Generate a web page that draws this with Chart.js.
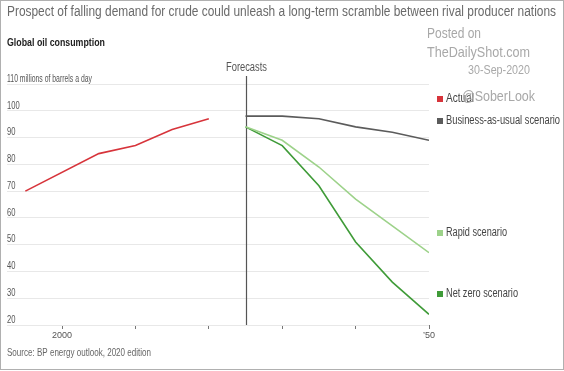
<!DOCTYPE html>
<html>
<head>
<meta charset="utf-8">
<script src="https://cdn.jsdelivr.net/npm/chart.js@4.4.1/dist/chart.umd.min.js"></script>
<style>
  html, body { margin: 0; padding: 0; background: #fff; }
</style>
</head>
<body>
<canvas id="oilChart" width="564" height="371"></canvas>
<script>
// data (millions of barrels a day)
const actualYears = [1995, 2005, 2010, 2015, 2020];
const actualValues = [70, 84, 87, 93, 97];
const scenarioYears = [2025, 2030, 2035, 2040, 2045, 2050];
const businessAsUsual = [98, 98, 97, 94, 92, 89];
const rapidScenario = [94, 89, 79, 67, 57, 47];
const netZeroScenario = [94, 87, 72, 51, 36, 24];

const xTickYears = [2000, 2010, 2020, 2030, 2040, 2050];
const xTickLabels = { 2000: '2000', 2050: '\u201950' };
const forecastYear = 2025;

const legendNames = ['Actual', 'Business-as-usual scenario', 'Rapid scenario', 'Net zero scenario'];
const legendColors = ['#d7343b', '#5b5b5b', '#9dd28a', '#3f9b38'];
const legendLevels = [104.5, 96.3, 54.4, 31.6];

const SANS = '"Liberation Sans", Arial, sans-serif';
const SQUEEZE = 0.78; // the WSJ face is a condensed one, we fake it

const toPoints = (xs, ys) => xs.map((x, i) => ({ x: x, y: ys[i] }));

// draw text squeezed horizontally, either by a fixed factor or to a given width
function narrowText(c, text, x, y, font, opts) {
  c.save();
  c.font = font;
  const w = c.measureText(text).width;
  const s = opts.width ? opts.width / w : (opts.scale || SQUEEZE);
  const align = opts.align || 'left';
  let x0 = x;
  if (align === 'right') x0 = x - w * s;
  if (align === 'center') x0 = x - w * s / 2;
  c.translate(x0, y);
  c.scale(s, 1);
  c.textAlign = 'left';
  c.textBaseline = 'middle';
  c.fillText(text, 0, 0);
  c.restore();
}

const decor = {
  id: 'decor',
  beforeDraw(chart) {
    const c = chart.ctx;
    c.save();
    c.fillStyle = '#fff';
    c.fillRect(0, 0, chart.width, chart.height);
    c.restore();
  },
  beforeDatasetsDraw(chart) {
    const c = chart.ctx, x = chart.scales.x, y = chart.scales.y;
    const fx = Math.round(x.getPixelForValue(forecastYear)) + 0.5;
    c.save();
    c.strokeStyle = '#555';
    c.lineWidth = 1.2;
    c.beginPath();
    c.moveTo(fx, 76);
    c.lineTo(fx, y.bottom);
    c.stroke();
    c.fillStyle = '#555';
    narrowText(c, 'Forecasts', fx, 68, '12px ' + SANS, { width: 41, align: 'center' });

    // y tick labels sit just above their grid lines
    y.ticks.forEach(t => {
      const py = y.getPixelForValue(t.value) - 5;
      if (t.value === 110) {
        narrowText(c, '110 millions of barrels a day', 7, py, '10px ' + SANS, { width: 85 });
      } else {
        narrowText(c, String(t.value), 7, py, '10px ' + SANS, { scale: 0.76 });
      }
    });
    c.restore();
  },
  afterDraw(chart) {
    const c = chart.ctx, y = chart.scales.y;
    c.save();
    c.fillStyle = '#6a6a6a';
    narrowText(c, 'Prospect of falling demand for crude could unleash a long-term scramble between rival producer nations', 7, 12, '14px ' + SANS, { width: 549 });
    c.fillStyle = '#222';
    narrowText(c, 'Global oil consumption', 7, 43, 'bold 11px ' + SANS, { width: 98 });
    c.fillStyle = '#666';
    narrowText(c, 'Source: BP energy outlook, 2020 edition', 7, 353, '10.5px ' + SANS, { width: 144 });

    // legend next to the line ends
    const legendWidths = [28, 114, 61, 72];
    legendNames.forEach((name, i) => {
      const ly = y.getPixelForValue(legendLevels[i]);
      c.fillStyle = legendColors[i];
      c.fillRect(437, Math.round(ly) - 3, 6, 6);
      c.fillStyle = '#444';
      narrowText(c, name, 446, ly, '12px ' + SANS, { width: legendWidths[i] });
    });

    // watermark
    c.fillStyle = '#a8a8a8';
    narrowText(c, 'Posted on', 427, 34, '14px ' + SANS, { width: 54 });
    narrowText(c, 'TheDailyShot.com', 427, 53, '15px ' + SANS, { width: 103 });
    narrowText(c, '30-Sep-2020', 530, 70, '13px ' + SANS, { width: 62, align: 'right' });
    narrowText(c, '@SoberLook', 462, 97, '15px ' + SANS, { width: 73 });

    // frame
    c.strokeStyle = '#b0b0b0';
    c.lineWidth = 1;
    c.strokeRect(0.5, 0.5, chart.width - 1, chart.height - 2);
    c.restore();
  }
};

const lineStyle = { borderWidth: 1.6, pointRadius: 0, tension: 0, fill: false };

const oilChart = new Chart(document.getElementById('oilChart').getContext('2d'), {
  type: 'line',
  data: {
    datasets: [
      Object.assign({ label: 'Actual', data: toPoints(actualYears, actualValues), borderColor: legendColors[0] }, lineStyle),
      Object.assign({ label: 'Business-as-usual scenario', data: toPoints(scenarioYears, businessAsUsual), borderColor: legendColors[1] }, lineStyle),
      Object.assign({ label: 'Rapid scenario', data: toPoints(scenarioYears, rapidScenario), borderColor: legendColors[2] }, lineStyle),
      Object.assign({ label: 'Net zero scenario', data: toPoints(scenarioYears, netZeroScenario), borderColor: legendColors[3] }, lineStyle)
    ]
  },
  options: {
    responsive: false,
    animation: false,
    devicePixelRatio: 1,
    layout: { padding: { left: 7, right: 135, top: 84, bottom: 26 } },
    plugins: { legend: { display: false }, tooltip: { enabled: false } },
    scales: {
      x: {
        type: 'linear',
        min: 1992.5,
        max: 2050,
        afterBuildTicks: s => { s.ticks = xTickYears.map(v => ({ value: v })); },
        afterFit: s => { s.height = 20; },
        grid: { drawOnChartArea: false, drawTicks: true, tickLength: 4, color: '#777' },
        border: { display: false },
        ticks: {
          autoSkip: false,
          maxRotation: 0,
          padding: 1,
          color: '#555',
          font: { size: 9, family: SANS },
          callback: v => xTickLabels[v] || ''
        }
      },
      y: {
        min: 20,
        max: 110,
        afterFit: s => { s.width = 0; },
        grid: { color: '#e8e8e8', drawTicks: false },
        border: { display: false },
        ticks: { stepSize: 10, display: false }
      }
    }
  },
  plugins: [decor]
});
</script>
</body>
</html>
